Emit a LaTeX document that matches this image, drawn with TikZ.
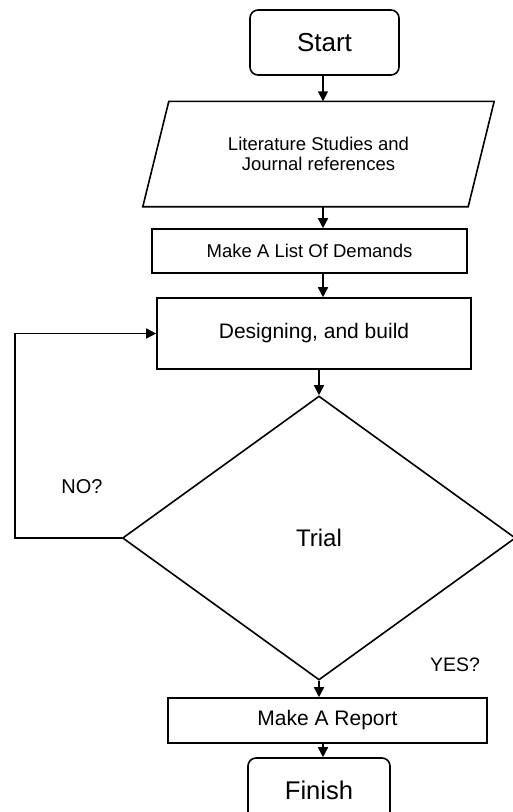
\documentclass[tikz,border=0pt]{standalone}
\usepackage{fontspec}
\setmainfont{Liberation Sans}
\usetikzlibrary{arrows.meta, shapes.geometric, calc}

\tikzset{
  box/.style={draw=black, line width=1.6pt, rectangle, align=center, inner sep=0pt},
  term/.style={box, rounded corners=8pt},
  arr/.style={draw=black, line width=1.6pt, -{Triangle[length=10pt,width=10pt]}},
  lbl/.style={inner sep=0pt}
}

\begin{document}
\begin{tikzpicture}[x=1pt,y=-1pt]
  \useasboundingbox (0,0) rectangle (513,812);

  % spine of the chart and the loop back line
  \coordinate (spine) at (323,0);
  \coordinate (loop) at (15,0);

  \node[term, minimum width=149pt, minimum height=65pt,
        font=\fontsize{26}{31}\selectfont] (start) at (324.5,42.5) {Start};

  % input box, slanted sides drawn from its corners
  \node[lbl, minimum width=325pt, minimum height=105pt, align=center,
        font=\fontsize{18.5}{20.5}\selectfont] (lit) at (318.5,154)
    {Literature Studies and\\ Journal references};
  \draw[line width=1.6pt] ($(lit.north west)+(13,0)$) -- ($(lit.north east)+(13,0)$)
    -- ($(lit.south east)+(-13,0)$) -- ($(lit.south west)+(-13,0)$) -- cycle;

  \node[box, minimum width=315pt, minimum height=44pt,
        font=\fontsize{18.5}{22}\selectfont] (demands) at (309.5,251) {Make A List Of Demands};

  \node[box, minimum width=314pt, minimum height=71pt,
        font=\fontsize{21}{25}\selectfont] (design) at (314,333.5) {Designing, and build};

  \node[draw=black, line width=1.6pt, diamond, inner sep=0pt,
        minimum width=393pt, minimum height=284pt,
        font=\fontsize{24}{29}\selectfont] (trial) at (319,538) {Trial};

  \node[box, minimum width=319pt, minimum height=45pt,
        font=\fontsize{21}{25}\selectfont] (report) at (327.5,720.5) {Make A Report};

  \node[term, minimum width=142pt, minimum height=64pt,
        font=\fontsize{25.6}{30}\selectfont] (finish) at (319,790) {Finish};

  \node[lbl, font=\fontsize{20}{24}\selectfont] (no) at (82,487) {NO?};
  \node[lbl, font=\fontsize{19.5}{23}\selectfont] (yes) at (455,665) {YES?};

  % connectors
  \draw[arr] (start.south -| spine) -- (lit.north -| spine);
  \draw[arr] (lit.south -| spine) -- (demands.north -| spine);
  \draw[arr] (demands.south -| spine) -- (design.north -| spine);
  \draw[arr] (design.south -| trial.north) -- (trial.north);
  \draw[arr] (trial.south) -- (report.north -| trial.south);
  \draw[arr] (report.south -| spine) -- (finish.north -| spine);
  \draw[arr] (trial.west) -- (trial.west -| loop) |- (design.west);
\end{tikzpicture}
\end{document}
